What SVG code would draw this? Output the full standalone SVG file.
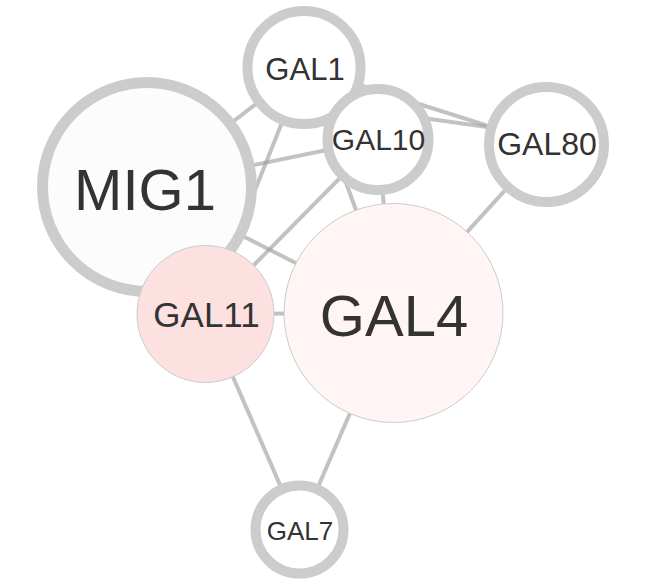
<svg xmlns="http://www.w3.org/2000/svg" width="647" height="585" viewBox="0 0 647 585">
<style>
.edge{stroke:#999;stroke-opacity:0.6;stroke-width:4;fill:none}
.ring{stroke:#cccccc;stroke-width:10}
.thin{stroke:#cccccc;stroke-width:1}
.lbl{font-family:"Liberation Sans",Arial,sans-serif;fill:#333333;text-anchor:middle}
</style>
<rect width="647" height="585" fill="#ffffff"/>
<g id="edges">
<line class="edge" x1="147" y1="187" x2="304" y2="67.5"/>
<line class="edge" x1="147" y1="187" x2="378" y2="139.5"/>
<line class="edge" x1="147" y1="187" x2="393.5" y2="313"/>
<line class="edge" x1="304" y1="67.5" x2="205.5" y2="314"/>
<line class="edge" x1="304" y1="67.5" x2="393.5" y2="313"/>
<line class="edge" x1="304" y1="67.5" x2="546.5" y2="144.5"/>
<line class="edge" x1="378" y1="139.5" x2="205.5" y2="314"/>
<line class="edge" x1="378" y1="139.5" x2="393.5" y2="313"/>
<line class="edge" x1="400" y1="114.8" x2="520" y2="131.6"/>
<line class="edge" x1="546.5" y1="144.5" x2="393.5" y2="313"/>
<line class="edge" x1="205.5" y1="314" x2="393.5" y2="313"/>
<line class="edge" x1="205.5" y1="314" x2="299.5" y2="529.5"/>
<line class="edge" x1="393.5" y1="313" x2="299.5" y2="529.5"/>
</g>
<g id="node-MIG1">
<circle cx="147" cy="187" r="104.5" fill="#fcfcfc" class="ring" style="stroke-width:11"/>
<text class="lbl" x="145" y="210" font-size="58">MIG1</text>
</g>
<g id="node-GAL1">
<circle cx="304" cy="67.5" r="56.5" fill="#ffffff" class="ring"/>
<text class="lbl" x="305" y="80" font-size="31">GAL1</text>
</g>
<g id="node-GAL10">
<circle cx="378" cy="139.5" r="50.5" fill="#ffffff" class="ring"/>
<text class="lbl" x="378.5" y="150" font-size="30">GAL10</text>
</g>
<g id="node-GAL80">
<circle cx="546.5" cy="144.5" r="57.5" fill="#ffffff" class="ring"/>
<text class="lbl" x="547" y="155" font-size="32">GAL80</text>
</g>
<g id="node-GAL11">
<circle cx="205.5" cy="314" r="68.5" fill="#fde1e1" class="thin"/>
<text class="lbl" x="206.5" y="327" font-size="35">GAL11</text>
</g>
<g id="node-GAL4">
<circle cx="393.5" cy="313" r="109.5" fill="#fff5f4" class="thin"/>
<text class="lbl" x="394" y="336" font-size="58">GAL4</text>
</g>
<g id="node-GAL7">
<circle cx="299.5" cy="529.5" r="44" fill="#ffffff" class="ring"/>
<text class="lbl" x="300" y="540" font-size="26">GAL7</text>
</g>
</svg>
